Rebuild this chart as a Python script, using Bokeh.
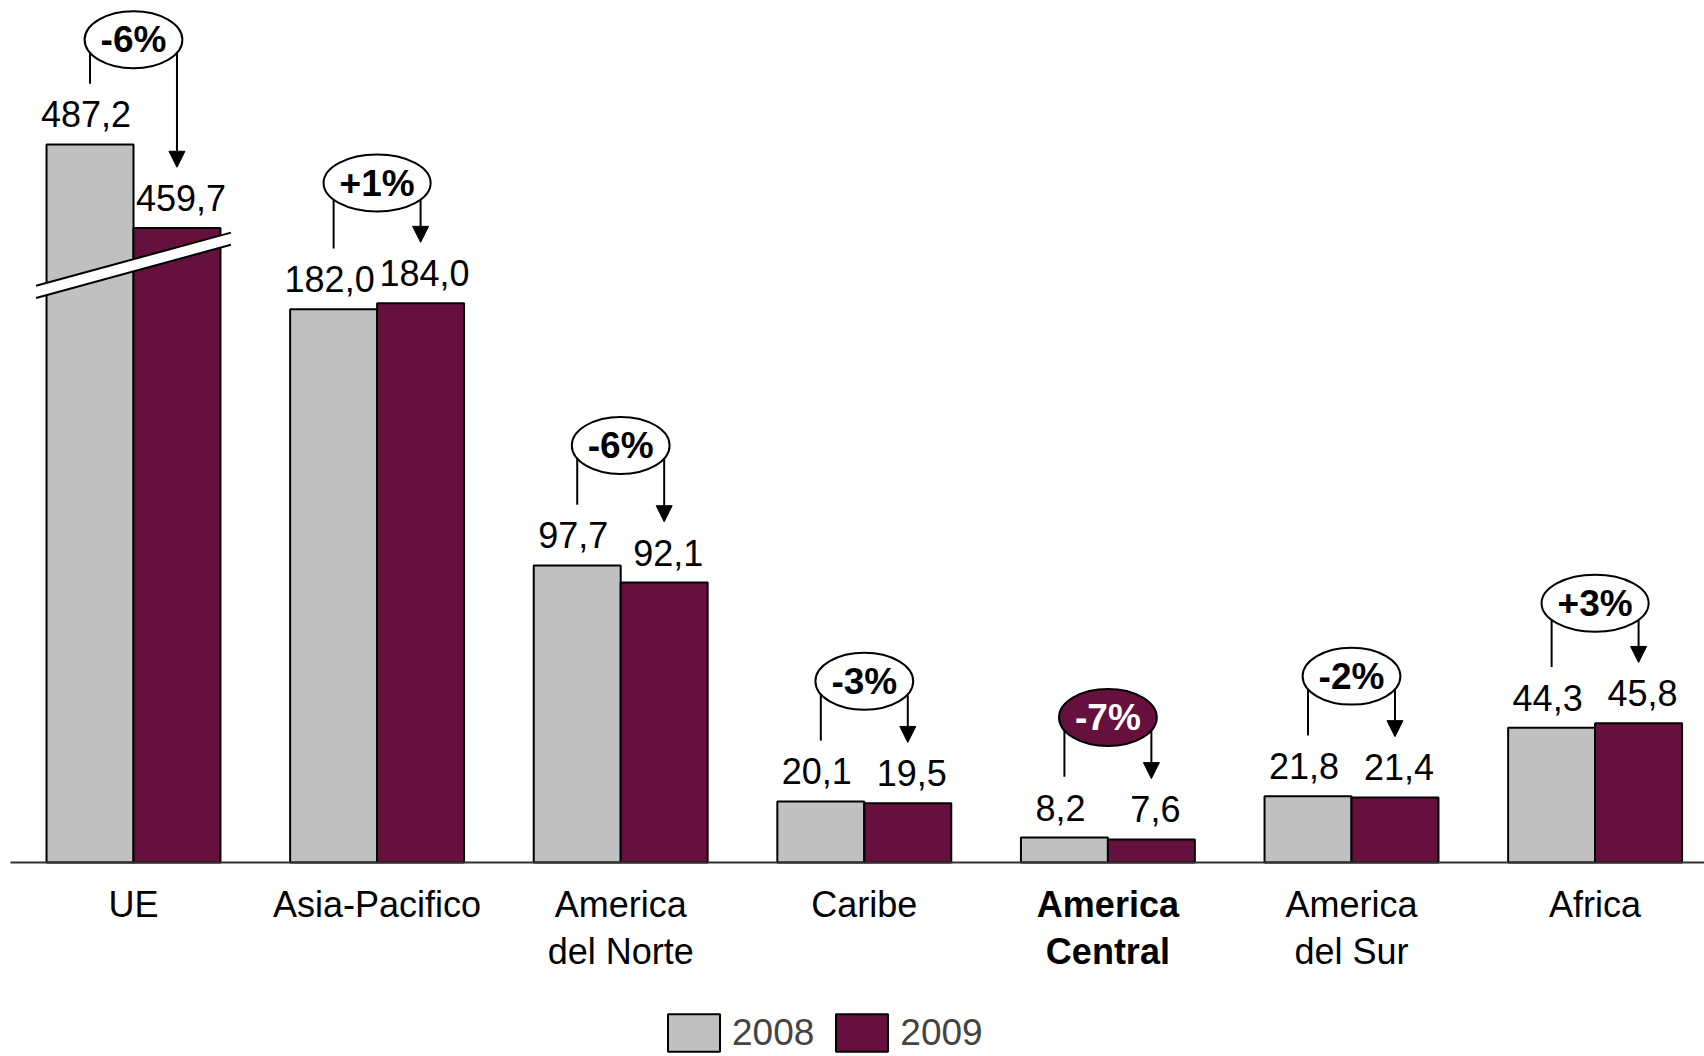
from bokeh.plotting import figure
from bokeh.models import ColumnDataSource, Arrow, NormalHead, Legend, LegendItem, Range1d
from bokeh.core.properties import value
from bokeh.embed import file_html
from bokeh.resources import INLINE

# ---------------- data ----------------
categories = ["UE", "Asia-Pacifico", "America\ndel Norte", "Caribe",
              "America\nCentral", "America\ndel Sur", "Africa"]
values_2008 = [487.2, 182.0, 97.7, 20.1, 8.2, 21.8, 44.3]
values_2009 = [459.7, 184.0, 92.1, 19.5, 7.6, 21.4, 45.8]
changes = ["-6%", "+1%", "-6%", "-3%", "-7%", "-2%", "+3%"]
years = ["2008", "2009"]
highlight = "America\nCentral"

# ---------------- layout / style ----------------
FONT_NAME = "Liberation Sans"
FONT = value(FONT_NAME)
GRAY = "#C0C0C0"
MAROON = "#66113D"
W, H = 1704, 1056
PX_X = 243.6           # pixels per category
PX = 3.04              # pixels per value unit
X0 = -133 / PX_X
X1 = X0 + W / PX_X
Y_MAX = 862 / PX
Y_MIN = Y_MAX - H / PX
BAR_W = 0.357
OFF = BAR_W / 2
BREAK_AT = 300.0       # values above this are drawn on a broken axis
BREAK_GAP = 251.0      # amount removed by the axis break
PCT_SIZE = 37


def shown(v):
    return v - BREAK_GAP if v > BREAK_AT else v


def fmt(v):
    return f"{v:.1f}".replace(".", ",")


CHAR_W = {"-": 0.333, "+": 0.584, "%": 0.889}


def ell_width(t):
    return sum(CHAR_W.get(c, 0.556) for c in t) * PCT_SIZE + 32


n = len(categories)
xs = list(range(n))
d08 = [shown(v) for v in values_2008]
d09 = [shown(v) for v in values_2009]

p = figure(width=W, height=H, x_range=Range1d(X0, X1), y_range=Range1d(Y_MIN, Y_MAX),
           output_backend="svg", toolbar_location=None, min_border=0,
           x_axis_location=None, y_axis_location=None, outline_line_color=None)
p.grid.visible = False

src08 = ColumnDataSource(dict(x=[x - OFF for x in xs], top=d08, lab=[fmt(v) for v in values_2008]))
src09 = ColumnDataSource(dict(x=[x + OFF for x in xs], top=d09, lab=[fmt(v) for v in values_2009]))

r08 = p.vbar(x="x", top="top", bottom=0, width=BAR_W, source=src08,
             fill_color=GRAY, line_color="black", line_width=2)
r09 = p.vbar(x="x", top="top", bottom=0, width=BAR_W, source=src09,
             fill_color=MAROON, line_color="black", line_width=2)

# axis break band on bars that exceed the break
for i in xs:
    if values_2008[i] > BREAK_AT or values_2009[i] > BREAK_AT:
        top = min(d08[i], d09[i])
        xl, xr = i - 0.40, i + 0.40
        up = (top - 19, top - 1.5)
        lo = (top - 23, top - 5.5)
        p.patch([xl, xr, xr, xl], [up[0], up[1], lo[1], lo[0]], fill_color="white", line_color=None)
        p.line([xl, xr], [up[0], up[1]], line_color="black", line_width=2)
        p.line([xl, xr], [lo[0], lo[1]], line_color="black", line_width=2)

# baseline (category axis line)
p.segment(x0=[X0 + 10 / PX_X], y0=[0], x1=[X1], y1=[0], line_color="#333333", line_width=2)

# value labels
p.text(x="x", y="top", text="lab", source=src08, y_offset=-30, x_offset=-4,
       text_align="center", text_baseline="alphabetic", text_font=FONT, text_font_size="36px",
       text_color="black")
p.text(x="x", y="top", text="lab", source=src09, y_offset=-30, x_offset=4,
       text_align="center", text_baseline="alphabetic", text_font=FONT, text_font_size="36px",
       text_color="black")

# callouts
cy = [min(max(a, b) + 39.5, Y_MAX - 12.9) for a, b in zip(d08, d09)]
p.segment(x0=[x - OFF for x in xs], y0=cy, x1=[x - OFF for x in xs], y1=[a + 20 for a in d08],
          line_color="black", line_width=2)
arr_src = ColumnDataSource(dict(x=[x + OFF for x in xs], y0=cy, y1=[b + 20 for b in d09]))
p.add_layout(Arrow(end=NormalHead(size=16, fill_color="black", line_color="black"),
                   x_start="x", y_start="y0", x_end="x", y_end="y1", source=arr_src,
                   line_color="black", line_width=2, level="underlay"))

ell_src = ColumnDataSource(dict(
    x=xs, y=cy, w=[ell_width(t) for t in changes], t=changes,
    fill=[MAROON if c == highlight else "white" for c in categories],
    tc=["white" if c == highlight else "black" for c in categories]))
p.ellipse(x="x", y="y", width="w", height=57, width_units="screen", height_units="screen",
          source=ell_src, fill_color="fill", line_color="black", line_width=2)
p.text(x="x", y="y", text="t", source=ell_src, text_align="center", text_baseline="middle",
       text_font=FONT, text_font_size=f"{PCT_SIZE}px", text_font_style="bold", text_color="tc")

# category labels
norm = [i for i, c in enumerate(categories) if c != highlight]
bold = [i for i, c in enumerate(categories) if c == highlight]
for idx, style in ((norm, "normal"), (bold, "bold")):
    s = ColumnDataSource(dict(x=[xs[i] for i in idx], y=[0] * len(idx), t=[categories[i] for i in idx]))
    p.text(x="x", y="y", text="t", source=s, y_offset=21, text_align="center", text_baseline="top",
           text_font=FONT, text_font_size="36px", text_font_style=style, text_color="black",
           text_line_height=1.17)

legend = Legend(items=[LegendItem(label=years[0], renderers=[r08]),
                       LegendItem(label=years[1], renderers=[r09])],
                orientation="horizontal", location=(661, 0), glyph_width=65, glyph_height=47,
                label_height=47, label_text_font=FONT_NAME, label_text_font_size="37px",
                spacing=15, label_standoff=6, padding=0, margin=0,
                border_line_color=None, background_fill_alpha=0)
p.add_layout(legend)

open("out.html", "w").write(file_html(p, INLINE))
